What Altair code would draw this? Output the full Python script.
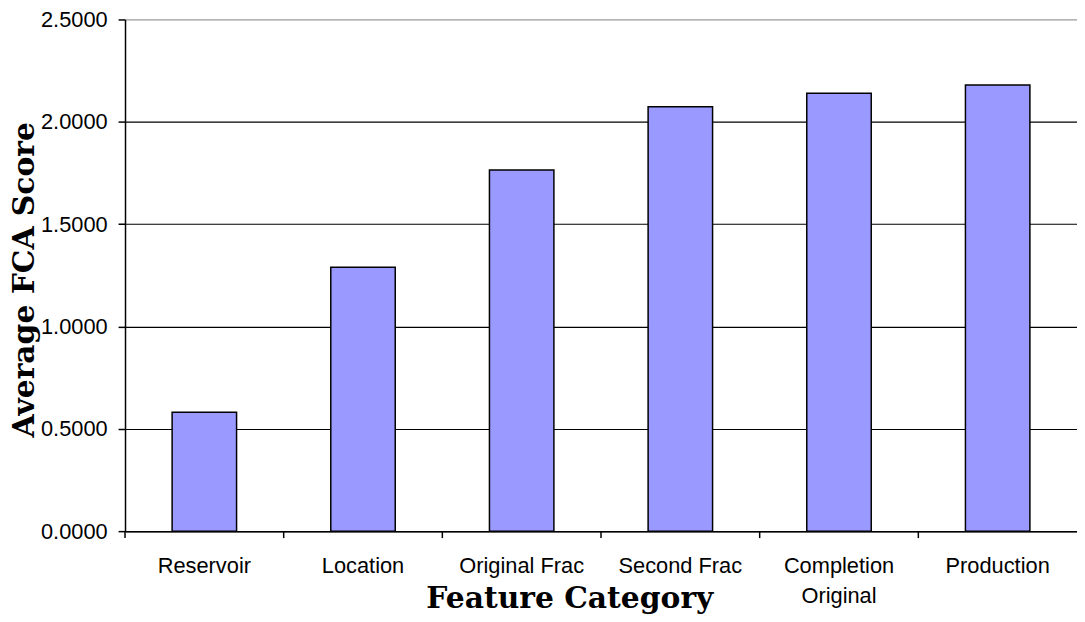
import altair as alt
import pandas as pd

categories = ["Reservoir", "Location", "Original Frac", "Second Frac", "Completion Original", "Production"]
scores = [0.581, 1.289, 1.764, 2.074, 2.140, 2.180]
y_ticks = [0.0, 0.5, 1.0, 1.5, 2.0, 2.5]

df = pd.DataFrame({"category": categories, "score": scores})

W, H = 960, 516

x_scale = alt.Scale(domain=categories, paddingInner=0, paddingOuter=0)

bars = alt.Chart(df).mark_bar(
    size=65, color="#9999FF", stroke="#000000", strokeWidth=1.5
).encode(
    x=alt.X(
        "category:N",
        sort=None,
        scale=x_scale,
        axis=alt.Axis(
            title="Feature Category",
            titleFont="DejaVu Serif",
            titleFontWeight="bold",
            titleFontSize=30,
            titleColor="#000000",
            titleX=448,
            titleY=68,
            titleBaseline="middle",
            labelFont="Liberation Sans",
            labelFontSize=22,
            labelColor="#000000",
            labelAngle=0,
            labelPadding=25,
            labelLineHeight=30,
            labelBaseline="top",
            labelExpr="datum.label == 'Completion Original' ? ['Completion', 'Original'] : datum.label",
            ticks=False,
            domainColor="#000000",
            domainWidth=1.5,
            grid=False,
        ),
    ),
    y=alt.Y(
        "score:Q",
        scale=alt.Scale(domain=[0, 2.5], nice=False),
        axis=alt.Axis(
            title="Average FCA Score",
            titleFont="DejaVu Serif",
            titleFontWeight="bold",
            titleFontSize=30,
            titleColor="#000000",
            titleX=-101,
            titleY=262,
            titleBaseline="middle",
            values=y_ticks,
            format=".4f",
            labelFont="Liberation Sans",
            labelFontSize=22,
            labelColor="#000000",
            labelPadding=11,
            tickSize=7,
            tickColor="#000000",
            tickWidth=1.5,
            domainColor="#000000",
            domainWidth=1.5,
            grid=True,
            gridColor=alt.condition("datum.value == 2.5", alt.value("#999999"), alt.value("#000000")),
            gridWidth=1.2,
            gridOpacity=1,
        ),
    ),
)

xticks = alt.Chart(df).mark_rule(color="#000000", strokeWidth=1.5).encode(
    x=alt.X("category:N", sort=None, scale=x_scale, bandPosition=0),
    y=alt.value(H),
    y2=alt.value(H + 7),
)

chart = alt.layer(bars, xticks).properties(
    width=W,
    height=H,
    autosize=alt.AutoSizeParams(type="none"),
    padding={"left": 118, "top": 9, "right": 0, "bottom": 81},
    background="#ffffff",
).configure_view(stroke=None)

chart.save("out.html", embed_options={"renderer": "svg", "actions": False})
